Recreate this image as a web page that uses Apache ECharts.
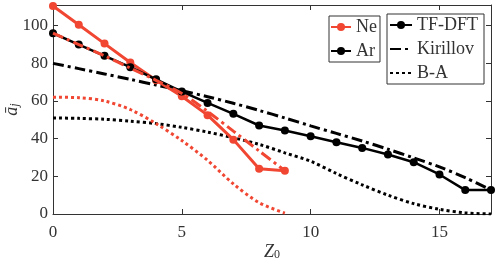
<!DOCTYPE html>
<html><head><meta charset="utf-8">
<script src="https://cdn.jsdelivr.net/npm/echarts@6/dist/echarts.min.js"></script>
<style>html,body{margin:0;padding:0;background:#fff}#c{width:498px;height:263px}</style>
</head><body><div id="c"></div>
<script>
const zAr = [0,1,2,3,4,5,6,7,8,9,10,11,12,13,14,15,16,17];
const zNe = [0,1,2,3,4,5,6,7,8,9];
const neTF = [110.5,100.5,90.5,80.5,71,62.5,52.5,39.5,24,23];
const neKir = [96,90,84,77.5,71,64,54.5,44,33.5,23];
const neBA = [62,61.8,60,55.5,48,39,28.5,16,6,0.5];
const arTF = [96,90,84,78,71.5,65,59,53.2,47,44.3,41.3,38.1,35.1,31.6,27.5,21,12.7,12.7];
const arKir = [80,77.2,74.4,71.5,68.5,65.5,62.3,58.8,55,51,46.8,42.8,38.8,34.4,29.8,25,19.3,12.7];
const arBA = [51,50.8,50.3,49.3,48,46,43.5,40.5,37,32.5,28,21.5,15.5,10,5.5,2.5,0.6,0];
const xTicks = {min:0, max:17, interval:5};
const yTicks = {min:0, max:111, interval:20};

const RED = '#f04632', BLK = '#000';
const FONT = '"Liberation Serif", "DejaVu Serif", serif';
const TXT = '#333';
const pairs = (xs, ys) => xs.map((x,i)=>[x, ys[i]]);
const dashDot = [11,4,3,4];
const dotted = [3,3];

const axisBase = {
  axisLine:{show:true, onZero:false, lineStyle:{color:'#333', width:1}},
  axisTick:{show:true, inside:true, length:5, lineStyle:{color:'#333', width:1}},
  splitLine:{show:false}
};
const legText = {fontFamily:FONT, fontSize:18, color:TXT};
const chart = echarts.init(document.getElementById('c'), null, {renderer:'canvas'});
chart.setOption({
  animation:false,
  backgroundColor:'#fff',
  textStyle:{fontFamily:FONT},
  grid:{left:53, right:7, top:5, bottom:49, containLabel:false, outerBoundsMode:'none'},
  xAxis:[
    Object.assign({type:'value', position:'bottom'}, xTicks, axisBase, {
      name:'{z|Z}{s|0}', nameLocation:'middle', nameGap:29, nameMoveOverlap:false,
      nameTextStyle:{rich:{z:{fontFamily:FONT, fontStyle:'italic', fontSize:18, color:TXT, lineHeight:18},
                            s:{fontFamily:FONT, fontSize:12, color:TXT, lineHeight:8, verticalAlign:'bottom'}}},
      axisLabel:{show:true, showMaxLabel:false, margin:10, fontFamily:FONT, fontSize:17, color:TXT}
    }),
    Object.assign({type:'value', position:'top'}, xTicks, axisBase, {axisLabel:{show:false}})
  ],
  yAxis:[
    Object.assign({type:'value', position:'left'}, yTicks, axisBase, {
      name:'{a|ā}{s|j}', nameLocation:'middle', nameGap:32, nameRotate:90, nameMoveOverlap:false,
      nameTextStyle:{rich:{a:{fontFamily:FONT, fontStyle:'italic', fontSize:18, color:TXT, lineHeight:18},
                            s:{fontFamily:FONT, fontStyle:'italic', fontSize:12, color:TXT, lineHeight:8, verticalAlign:'bottom'}}},
      axisLabel:{show:true, showMaxLabel:false, margin:5, fontFamily:FONT, fontSize:17, color:TXT}
    }),
    Object.assign({type:'value', position:'right'}, yTicks, axisBase, {axisLabel:{show:false}})
  ],
  legend:[
    {data:['Ne','Ar'], orient:'vertical', left:329, top:16, borderColor:'#333', borderWidth:1,
     padding:[2,3,2,1], itemWidth:20, itemHeight:10, itemGap:6, backgroundColor:'#fff',
     textStyle:legText},
    {data:['TF-DFT', {name:'Kirillov', itemStyle:{opacity:0}}, {name:'B-A', itemStyle:{opacity:0}}],
     orient:'vertical', left:387, top:14, borderColor:'#333', borderWidth:1,
     padding:[2,6,2,2], itemWidth:22, itemHeight:10, itemGap:6, backgroundColor:'#fff',
     textStyle:legText}
  ],
  series:[
    {name:'Ne', type:'line', data:pairs(zNe, neTF), symbol:'circle', symbolSize:8,
     lineStyle:{color:RED, width:3}, itemStyle:{color:RED}, z:3},
    {name:'Ar', type:'line', data:pairs(zAr, arTF), symbol:'circle', symbolSize:8,
     lineStyle:{color:BLK, width:2.5}, itemStyle:{color:BLK}, z:4},
    {name:'Kirillov', type:'line', data:pairs(zAr, arKir), showSymbol:false, symbol:'none', smooth:0.3,
     lineStyle:{color:BLK, width:3, type:dashDot}, itemStyle:{color:BLK}, z:2},
    {name:'B-A', type:'line', data:pairs(zAr, arBA), showSymbol:false, symbol:'none', smooth:0.3,
     lineStyle:{color:BLK, width:3, type:dotted}, itemStyle:{color:BLK}, z:2},
    {name:'Ne Kirillov', type:'line', data:pairs(zNe, neKir), symbol:'none', smooth:0.3,
     lineStyle:{color:RED, width:3, type:dashDot}, itemStyle:{color:RED}, z:5},
    {name:'Ne B-A', type:'line', data:pairs(zNe, neBA), symbol:'none', smooth:0.3,
     lineStyle:{color:RED, width:3, type:dotted}, itemStyle:{color:RED}, z:2},
    {name:'TF-DFT', type:'line', data:[], symbol:'circle', symbolSize:8,
     lineStyle:{color:BLK, width:2.5}, itemStyle:{color:BLK}}
  ]
});
</script></body></html>
